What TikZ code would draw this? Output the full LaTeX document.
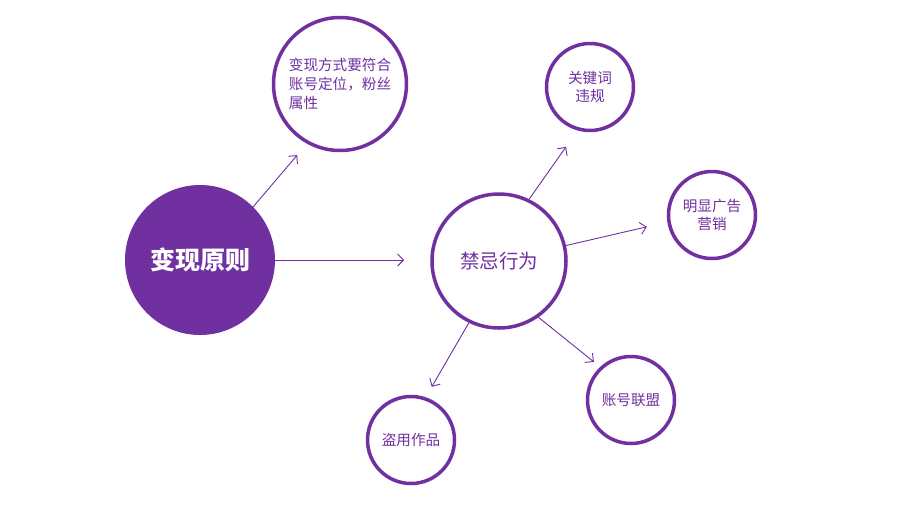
\documentclass[tikz,border=0pt]{standalone}
\usepackage{fontspec}
\setmainfont{Noto Sans CJK SC}
\usetikzlibrary{arrows.meta}
\definecolor{pur}{HTML}{7030A0}
\begin{document}
\begin{tikzpicture}[x=1pt,y=-1pt,
  ring/.style={circle, draw=pur, line width=3.5pt, fill=white, inner sep=0pt,
    text=pur, font=\fontsize{14.6}{18.5}\selectfont, align=center},
  small/.style={ring, minimum size=87pt},
  arr/.style={draw=pur, line width=0.9pt, -{Straight Barb[length=6pt,width=12pt]}}]
\useasboundingbox[fill=white] (0,0) rectangle (900,504);
\node[circle, fill=pur, minimum size=150pt, inner sep=0pt, text=white,
  font=\fontsize{25}{28}\selectfont\bfseries] (main) at (200,260) {变现原则};
\node[ring, minimum size=133pt, align=left, font=\fontsize{14.6}{19}\selectfont] (top) at (340,84) {变现方式要符合\\账号定位，粉丝\\属性};
\node[ring, minimum size=134pt, font=\fontsize{19.5}{22}\selectfont] (jj) at (499,261) {禁忌行为};
\node[small] (kw) at (590,87) {关键词\\违规};
\node[small] (ad) at (712,215) {明显广告\\营销};
\node[small] (dao) at (411,440) {盗用作品};
\node[small] (lm) at (631,400) {账号联盟};
\draw[arr, shorten >=15pt] (main.45) -- (top.241);
\draw[arr, shorten >=26pt] (main.east) -- (main.east -| jj.west);
\draw[arr, shorten >=20pt] (jj.64) -- (kw.254);
\draw[arr, shorten >=21pt] (jj.13) -- (ad.189);
\draw[arr, shorten >=12pt] (jj.244) -- (dao.71);
\draw[arr, shorten >=8pt] (jj.305) -- (lm.133);
\end{tikzpicture}
\end{document}
